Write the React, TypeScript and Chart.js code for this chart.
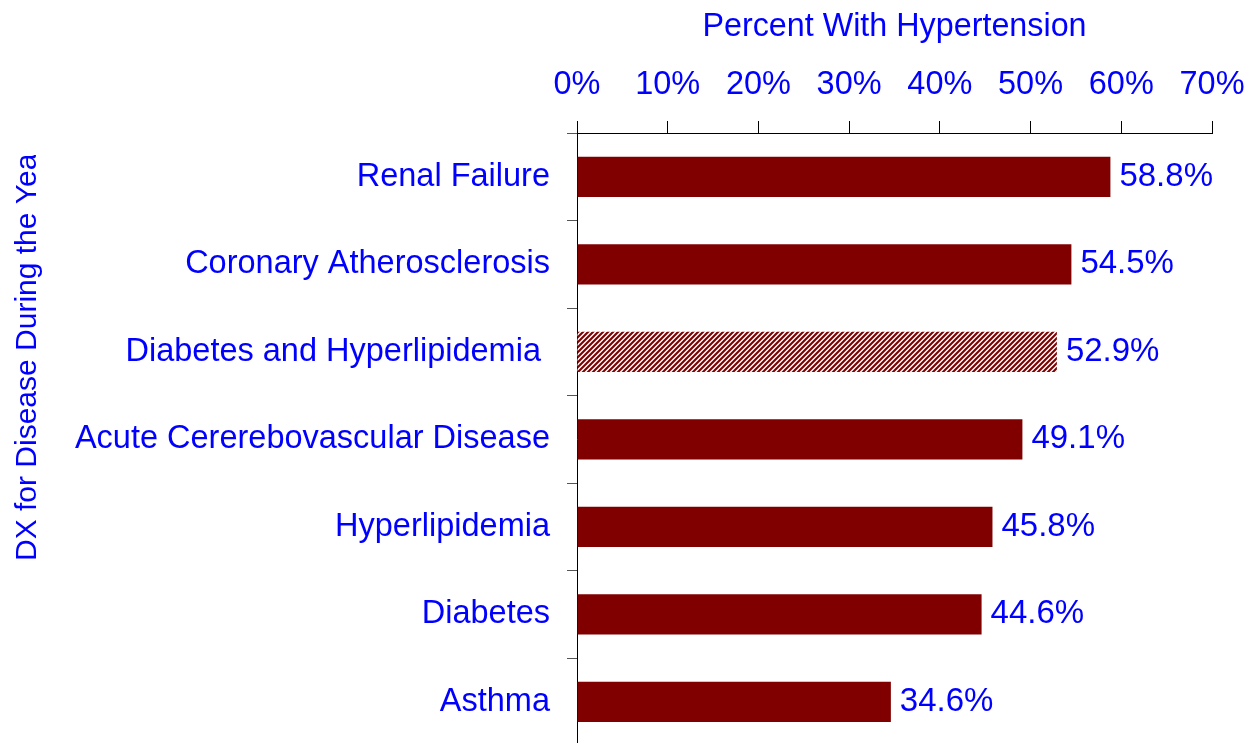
import React, { useEffect, useRef } from 'react';
import { Chart, registerables } from 'chart.js';

Chart.register(...registerables);

const categories = [
  'Renal Failure',
  'Coronary Atherosclerosis',
  'Diabetes and Hyperlipidemia ',
  'Acute Cererebovascular Disease',
  'Hyperlipidemia',
  'Diabetes',
  'Asthma',
];
const values = [58.8, 54.5, 52.9, 49.1, 45.8, 44.6, 34.6];
const hatched = [false, false, true, false, false, false, false];
const tickValues = [0, 10, 20, 30, 40, 50, 60, 70];
const xTitle = 'Percent With Hypertension';
const yTitle = 'DX for Disease During the Year';

const BLUE = '#0000FF';
const BAR = '#800000';
const FONT = '"Liberation Sans", Arial, sans-serif';

function makeHatch(ctx: CanvasRenderingContext2D) {
  const n = 5;
  const c = document.createElement('canvas');
  c.width = n;
  c.height = n;
  const g = c.getContext('2d')!;
  g.fillStyle = '#ffffff';
  g.fillRect(0, 0, n, n);
  g.strokeStyle = BAR;
  g.lineWidth = 2.1;
  g.beginPath();
  g.moveTo(-1, n + 1); g.lineTo(n + 1, -1);
  g.moveTo(-1, 1); g.lineTo(1, -1);
  g.moveTo(n - 1, n + 1); g.lineTo(n + 1, n - 1);
  g.stroke();
  return ctx.createPattern(c, 'repeat');
}

const valueLabels = {
  id: 'valueLabels',
  afterDatasetsDraw(chart: any) {
    const ctx = chart.ctx;
    const meta = chart.getDatasetMeta(0);
    ctx.save();
    ctx.font = `33px ${FONT}`;
    ctx.fillStyle = BLUE;
    ctx.textAlign = 'left';
    ctx.textBaseline = 'middle';
    meta.data.forEach((bar: any, i: number) => {
      ctx.fillText(values[i].toFixed(1) + '%', bar.x + 9, bar.y);
    });
    ctx.restore();
  },
};

const yTitlePlugin = {
  id: 'yTitleClipped',
  afterDraw(chart: any) {
    const ctx = chart.ctx;
    ctx.save();
    ctx.beginPath();
    ctx.rect(0, 155, 70, chart.height);
    ctx.clip();
    ctx.translate(28, 561);
    ctx.rotate(-Math.PI / 2);
    ctx.font = `30px ${FONT}`;
    ctx.fillStyle = BLUE;
    ctx.textAlign = 'left';
    ctx.textBaseline = 'middle';
    ctx.fillText(yTitle, 0, 0);
    ctx.restore();
  },
};

export default function App() {
  const ref = useRef<HTMLCanvasElement>(null);

  useEffect(() => {
    document.body.style.margin = '0';
    const canvas = ref.current!;
    const ctx = canvas.getContext('2d')!;
    const pattern = makeHatch(ctx);
    const chart = new Chart(ctx, {
      type: 'bar',
      data: {
        labels: categories,
        datasets: [
          {
            data: values,
            backgroundColor: (c: any) => (hatched[c.dataIndex] ? pattern : BAR),
            borderWidth: 0,
            barPercentage: 0.46,
            categoryPercentage: 1,
          },
        ],
      },
      options: {
        indexAxis: 'y',
        responsive: false,
        animation: false,
        devicePixelRatio: 1,
        layout: { padding: { left: 0, right: 37, top: 0, bottom: 14.5 } },
        plugins: { legend: { display: false }, tooltip: { enabled: false } },
        scales: {
          x: {
            type: 'linear',
            position: 'top',
            min: 0,
            max: 70,
            afterBuildTicks: (s: any) => {
              s.ticks = tickValues.map((v) => ({ value: v }));
            },
            afterFit: (s: any) => {
              s.height = 133;
              s.paddingLeft = 0;
              s.paddingRight = 0;
            },
            ticks: {
              callback: (v: any) => v + '%',
              font: { family: FONT, size: 32.5 },
              color: BLUE,
              padding: 16,
              maxRotation: 0,
              autoSkip: false,
            },
            grid: { drawOnChartArea: false, drawTicks: true, tickLength: 12, color: '#000000', lineWidth: 1 },
            border: { display: true, color: '#000000', width: 1 },
            title: {
              display: true,
              text: xTitle,
              color: BLUE,
              font: { family: FONT, size: 32.3 },
              padding: { top: 8, bottom: 18 },
            },
          },
          y: {
            type: 'category',
            afterFit: (s: any) => {
              s.width = 577;
              s.paddingTop = 0;
              s.paddingBottom = 0;
            },
            ticks: {
              font: { family: FONT, size: 32.5 },
              color: BLUE,
              padding: 17,
              autoSkip: false,
            },
            grid: { drawOnChartArea: false, offset: true, tickLength: 10, color: '#555555', lineWidth: 1 },
            border: { display: true, color: '#000000', width: 1 },
          },
        },
      },
      plugins: [valueLabels, yTitlePlugin],
    } as any);
    return () => chart.destroy();
  }, []);

  return (
    <div style={{ width: 1249, height: 743, overflow: 'hidden', background: '#fff' }}>
      <canvas ref={ref} width={1249} height={760} style={{ display: 'block' }} />
    </div>
  );
}
